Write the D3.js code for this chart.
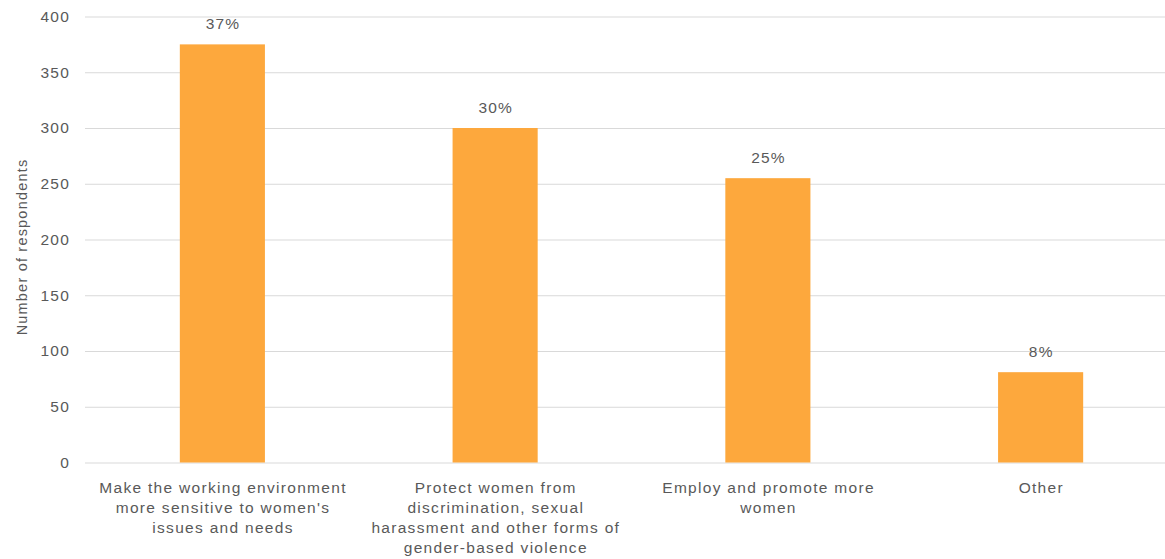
<!DOCTYPE html>
<html><head><meta charset="utf-8">
<script src="https://cdn.jsdelivr.net/npm/d3@7"></script>
<style>body{margin:0;background:#fff}svg{display:block}text{font-family:"Liberation Sans",Arial,sans-serif;fill:#595959}</style>
</head><body><svg id="c" width="1165" height="559"></svg>
<script>
const categories = ["Make the working environment more sensitive to women's issues and needs","Protect women from discrimination, sexual harassment and other forms of gender-based violence","Employ and promote more women","Other"];
const labelLines = [["Make the working environment","more sensitive to women's","issues and needs"],["Protect women from","discrimination, sexual","harassment and other forms of","gender-based violence"],["Employ and promote more","women"],["Other"]];
const values = [375, 300, 255, 81];
const percentLabels = ["37%","30%","25%","8%"];
const yTicks = [0,50,100,150,200,250,300,350,400];
const yTitle = "Number of respondents";

(function(){
const svg = d3.select("#c");
const mLeft = 86, mRight = 1177, mTop = 16.5, mBottom = 462.5;
const FS = 15.5, LS = 1.3;
const x = d3.scaleBand().domain(categories).range([mLeft, mRight]).paddingInner(0.688).paddingOuter(0.344);
const y = d3.scaleLinear().domain([0,400]).range([mBottom, mTop]);

const g = svg.append("g");
const yAxis = g.append("g").attr("transform",`translate(${mLeft-1},0)`)
  .call(d3.axisLeft(y).tickValues(yTicks).tickSize(-(1165-mLeft+1)).tickPadding(15));
yAxis.select(".domain").remove();
yAxis.selectAll(".tick line").attr("stroke","#d9d9d9").attr("stroke-width",1);
yAxis.selectAll(".tick text").attr("font-size",FS).attr("letter-spacing",1.2).attr("fill","#595959")
  .attr("font-family","Liberation Sans, Arial, sans-serif");

g.selectAll("rect.bar").data(values).enter().append("rect")
  .attr("x",(d,i)=>x(categories[i])).attr("width",x.bandwidth())
  .attr("y",d=>y(d)).attr("height",d=>y(0)-y(d)).attr("fill","#FDA83D");

g.selectAll("text.pct").data(values).enter().append("text")
  .attr("x",(d,i)=>x(categories[i])+x.bandwidth()/2+LS/2).attr("y",d=>y(d)-15.5)
  .attr("text-anchor","middle").attr("font-size",FS).attr("letter-spacing",1.2).text((d,i)=>percentLabels[i]);

const xl = g.selectAll("text.xl").data(labelLines).enter().append("text")
  .attr("text-anchor","middle").attr("font-size",FS).attr("letter-spacing",LS)
  .attr("transform",(d,i)=>`translate(${x(categories[i])+x.bandwidth()/2+LS/2},${mBottom+30})`);
xl.selectAll("tspan").data(d=>d).enter().append("tspan")
  .attr("x",0).attr("y",(d,j)=>j*20).text(d=>d);

svg.append("text").attr("transform",`translate(27,${247}) rotate(-90)`)
  .attr("text-anchor","middle").attr("font-size",FS-1).attr("letter-spacing",1.2).text(yTitle);
})();
</script></body></html>
